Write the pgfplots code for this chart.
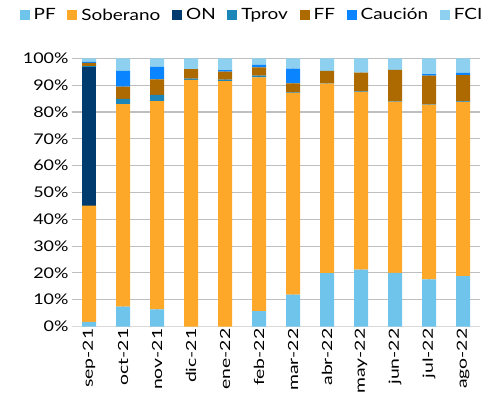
\documentclass[border=0pt]{standalone}
\usepackage{fontspec}
\setmainfont{Lato}
\usepackage{pgfplots}
\usepackage{pgfplotstable}
\pgfplotsset{compat=1.18}
\definecolor{cPF}{HTML}{6EC4EA}
\definecolor{cSob}{HTML}{FDA828}
\definecolor{cON}{HTML}{003B6F}
\definecolor{cTp}{HTML}{1C86B8}
\definecolor{cFF}{HTML}{AD6A00}
\definecolor{cCau}{HTML}{0A85FF}
\definecolor{cFCI}{HTML}{8DD0F0}
\definecolor{grid}{HTML}{D9D9D9}
\newcommand{\xl}[1]{\scalebox{1.08}[0.78]{#1}}
\newcommand{\lgt}[1]{\scalebox{1}[0.82]{#1}}
\pgfplotstableread{
x PF Sob ON Tp FF Cau FCI
0 1.7 43.4 51.8 0.3 1.2 0.3 1.3
1 7.4 75.6 0 1.9 4.6 5.9 4.6
2 6.4 77.7 0 2.3 5.8 4.7 3.1
3 0 92.0 0 0.5 3.5 0 4.0
4 0 91.6 0 0.5 3.0 0.6 4.3
5 5.7 87.3 0 0.6 3.1 0.9 2.4
6 11.9 75.3 0 0.2 3.3 5.5 3.8
7 19.9 70.7 0 0.1 4.7 0 4.6
8 21.2 66.3 0 0.2 7.0 0 5.3
9 20.0 63.9 0 0.2 11.7 0 4.2
10 17.6 65.2 0 0.2 10.6 0.6 5.8
11 18.8 64.9 0 0.3 9.8 0.8 5.4
}\data
\begin{document}
\begin{tikzpicture}
\path[use as bounding box] (0,0) rectangle (485bp,401bp);
\begin{axis}[
  at={(72bp,74.5bp)}, anchor=south west,
  scale only axis, width=408bp, height=268bp,
  ybar stacked, bar width=14bp,
  xmin=-0.5, xmax=11.5, ymin=0, ymax=100,
  xtick=data,
  xticklabels={\xl{sep-21},\xl{oct-21},\xl{nov-21},\xl{dic-21},\xl{ene-22},\xl{feb-22},\xl{mar-22},\xl{abr-22},\xl{may-22},\xl{jun-22},\xl{jul-22},\xl{ago-22}},
  x tick label style={rotate=90, anchor=east, font=\fontsize{18}{18}\selectfont, inner sep=2bp},
  ytick={0,10,...,100},
  yticklabel={\lgt{\pgfmathprintnumber{\tick}\%}},
  y tick label style={font=\fontsize{18}{18}\selectfont},
  /pgf/number format/assume math mode=true,
  major tick length=0pt,
  axis x line*=bottom, axis y line*=left,
  x axis line style={grid, line width=1.2pt},
  y axis line style={draw=none},
  ymajorgrids, grid style={grid, line width=1.2pt},
  legend columns=-1,
  legend style={draw=none, fill=none, at={(0.44,1.162)}, anchor=center,
    font=\fontsize{19}{19}\selectfont,
    nodes={inner sep=1bp},
    /tikz/every odd column/.append style={column sep=3bp},
    /tikz/every even column/.append style={column sep=10.7bp}},
  legend image code/.code={\fill[#1] (0bp,-5bp) rectangle (10bp,5bp);},
]
\addplot[fill=cPF, draw=none] table[x=x,y=PF]{\data};
\addplot[fill=cSob, draw=none] table[x=x,y=Sob]{\data};
\addplot[fill=cON, draw=none] table[x=x,y=ON]{\data};
\addplot[fill=cTp, draw=none] table[x=x,y=Tp]{\data};
\addplot[fill=cFF, draw=none] table[x=x,y=FF]{\data};
\addplot[fill=cCau, draw=none] table[x=x,y=Cau]{\data};
\addplot[fill=cFCI, draw=none] table[x=x,y=FCI]{\data};
\legend{\lgt{PF},\lgt{Soberano},\lgt{ON},\lgt{Tprov},\lgt{FF},\lgt{Caución},\lgt{FCI}}
\end{axis}
\end{tikzpicture}
\end{document}
